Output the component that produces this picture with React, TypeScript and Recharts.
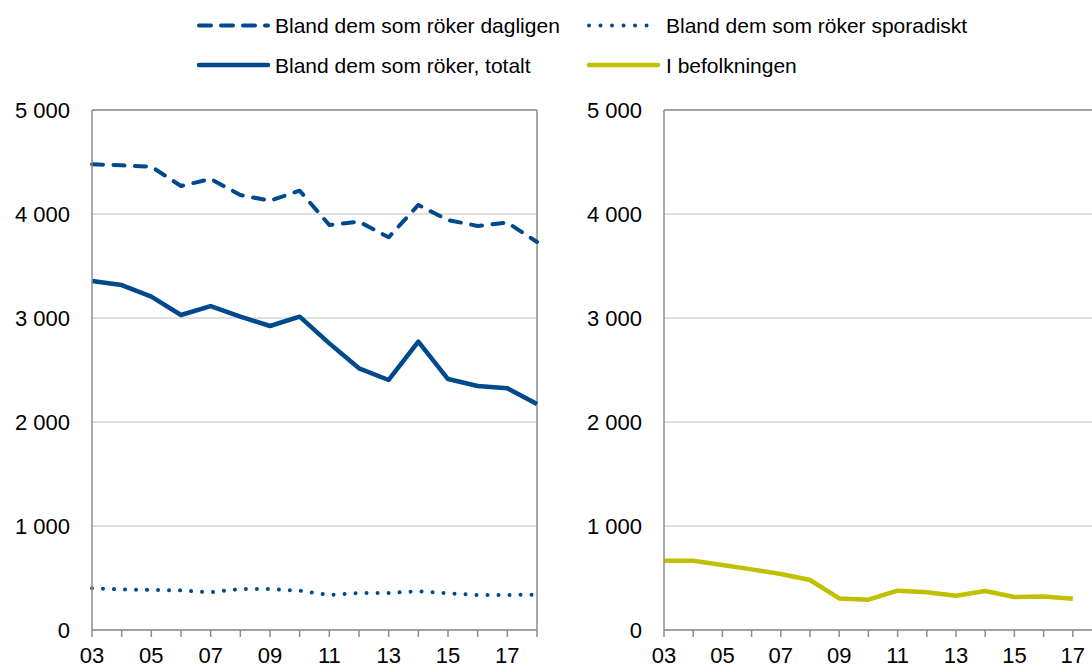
import React from 'react';
import { LineChart, Line, XAxis, YAxis, CartesianGrid, ReferenceLine } from 'recharts';

const years = [2003, 2004, 2005, 2006, 2007, 2008, 2009, 2010, 2011, 2012, 2013, 2014, 2015, 2016, 2017, 2018];
const dagligen = [4478, 4468, 4455, 4269, 4337, 4183, 4128, 4224, 3894, 3926, 3776, 4087, 3942, 3885, 3917, 3731];
const sporadiskt = [401, 391, 385, 381, 362, 394, 394, 378, 337, 356, 356, 372, 353, 337, 337, 340];
const totalt = [3356, 3317, 3205, 3029, 3115, 3013, 2923, 3013, 2756, 2516, 2404, 2772, 2413, 2346, 2324, 2173];
const befolkningen: (number | null)[] = [666, 666, 625, 583, 538, 481, 304, 292, 378, 362, 330, 375, 317, 321, 301, null];
const yTicks = [0, 1000, 2000, 3000, 4000, 5000];
const seriesNames = [
  'Bland dem som röker dagligen',
  'Bland dem som röker sporadiskt',
  'Bland dem som röker, totalt',
  'I befolkningen',
];

const BLUE = '#00498D';
const YELLOW = '#C0C000';
const AXIS = '#8c8c8c';
const GRID = '#d4d4d4';
const FONT = '"Liberation Sans", Arial, sans-serif';

const leftData = years.map((y, i) => ({
  year: y,
  dagligen: dagligen[i],
  sporadiskt: sporadiskt[i],
  totalt: totalt[i],
}));
const rightData = years.map((y, i) => ({ year: y, befolkningen: befolkningen[i] }));

const fmtY = (v: number) => (v === 0 ? '0' : `${Math.round(v / 1000)} 000`);
const fmtX = (v: number) => (v % 2 === 1 ? String(v % 100).padStart(2, '0') : '');

const tickStyle = { fill: '#000', fontSize: 22, fontFamily: FONT };

export default function App() {
  return (
    <div style={{ position: 'absolute', left: 0, top: 0, width: 1092, height: 668, overflow: 'hidden', background: '#fff' }}>
      <svg width={1092} height={90} style={{ position: 'absolute', left: 0, top: 0 }}>
        <line x1={199} y1={25.5} x2={268} y2={25.5} stroke={BLUE} strokeWidth={4} strokeDasharray="12 10" strokeLinecap="round" />
        <text x={275} y={25.5} dominantBaseline="central" fontSize={21} fontFamily={FONT} fill="#000">{seriesNames[0]}</text>
        <line x1={589} y1={25.5} x2={658} y2={25.5} stroke={BLUE} strokeWidth={4} strokeDasharray="0.01 11.5" strokeLinecap="round" />
        <text x={666} y={25.5} dominantBaseline="central" fontSize={21} fontFamily={FONT} fill="#000">{seriesNames[1]}</text>
        <line x1={199} y1={65} x2={268} y2={65} stroke={BLUE} strokeWidth={4.5} strokeLinecap="round" />
        <text x={275} y={65} dominantBaseline="central" fontSize={21} fontFamily={FONT} fill="#000">{seriesNames[2]}</text>
        <line x1={589} y1={65} x2={658} y2={65} stroke={YELLOW} strokeWidth={4.5} strokeLinecap="round" />
        <text x={666} y={65} dominantBaseline="central" fontSize={21} fontFamily={FONT} fill="#000">{seriesNames[3]}</text>
      </svg>

      <div style={{ position: 'absolute', left: 0, top: 0 }}>
        <LineChart width={560} height={668} data={leftData} margin={{ top: 110, right: 23, bottom: 0, left: 0 }}>
          <CartesianGrid vertical={false} stroke={GRID} strokeWidth={1.5} />
          <XAxis
            dataKey="year"
            scale="point"
            padding={{ left: 0, right: 0 }}
            interval={0}
            height={38}
            tickFormatter={fmtX}
            tick={tickStyle}
            tickSize={7}
            tickMargin={10}
            tickLine={{ stroke: AXIS, strokeWidth: 1.5 }}
            axisLine={{ stroke: AXIS, strokeWidth: 1.5 }}
          />
          <YAxis
            domain={[0, 5000]}
            ticks={yTicks}
            width={92}
            tickFormatter={fmtY}
            tick={tickStyle}
            tickLine={false}
            tickSize={6}
            tickMargin={16}
            axisLine={{ stroke: AXIS, strokeWidth: 1.5 }}
            interval={0}
          />
          <ReferenceLine y={5000} stroke={AXIS} strokeWidth={1.5} />
          <ReferenceLine x={2018} stroke={AXIS} strokeWidth={1.5} />
          <Line dataKey="dagligen" stroke={BLUE} strokeWidth={4} strokeDasharray="11 10.5" strokeLinecap="round" strokeLinejoin="round" dot={false} isAnimationActive={false} />
          <Line dataKey="sporadiskt" stroke={BLUE} strokeWidth={4} strokeDasharray="0.01 11" strokeLinecap="round" strokeLinejoin="round" dot={false} isAnimationActive={false} />
          <Line dataKey="totalt" stroke={BLUE} strokeWidth={4.5} strokeLinejoin="round" dot={false} isAnimationActive={false} />
        </LineChart>
      </div>

      <div style={{ position: 'absolute', left: 570, top: 0 }}>
        <LineChart width={542} height={668} data={rightData} margin={{ top: 110, right: 10, bottom: 0, left: 0 }}>
          <CartesianGrid vertical={false} stroke={GRID} strokeWidth={1.5} />
          <XAxis
            dataKey="year"
            scale="point"
            padding={{ left: 0, right: 0 }}
            interval={0}
            height={38}
            tickFormatter={fmtX}
            tick={tickStyle}
            tickSize={7}
            tickMargin={10}
            tickLine={{ stroke: AXIS, strokeWidth: 1.5 }}
            axisLine={{ stroke: AXIS, strokeWidth: 1.5 }}
          />
          <YAxis
            domain={[0, 5000]}
            ticks={yTicks}
            width={94}
            tickFormatter={fmtY}
            tick={tickStyle}
            tickLine={false}
            tickSize={6}
            tickMargin={16}
            axisLine={{ stroke: AXIS, strokeWidth: 1.5 }}
            interval={0}
          />
          <ReferenceLine y={5000} stroke={AXIS} strokeWidth={1.5} />
          <Line dataKey="befolkningen" stroke={YELLOW} strokeWidth={4.5} strokeLinejoin="round" dot={false} isAnimationActive={false} />
        </LineChart>
      </div>
    </div>
  );
}
